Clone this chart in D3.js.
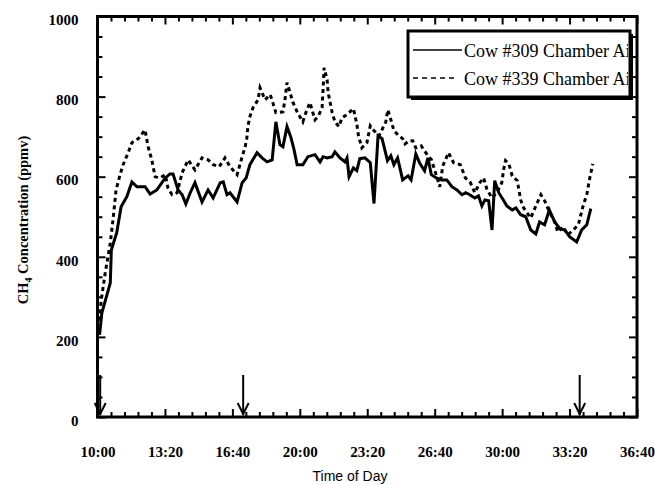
<!DOCTYPE html>
<html>
<head>
<meta charset="utf-8">
<script src="https://cdn.jsdelivr.net/npm/d3@7"></script>
<style>
  body { margin: 0; background: #fff; }
</style>
</head>
<body>
<div id="container"></div>
<script>
// DATA ####################################
// time in minutes after midnight of day 1 (10:00 = 600), CH4 in ppmv
const cow309Time = [606, 613, 638, 641, 657, 670, 687, 702, 717, 741, 756, 776, 801, 815, 824, 839, 851, 862, 875, 889,
  910, 928, 943, 964, 973, 984, 993, 1014, 1029, 1041, 1052, 1073, 1088, 1103, 1118, 1129, 1141, 1150, 1162, 1174,
  1183, 1192, 1209, 1224, 1245, 1260, 1269, 1281, 1296, 1304, 1319, 1334, 1340, 1346, 1359, 1369, 1378, 1393, 1409, 1420,
  1432, 1444, 1460, 1470, 1479, 1490, 1505, 1521, 1530, 1544, 1555, 1570, 1580, 1590, 1605, 1620, 1636, 1651, 1666, 1681,
  1692, 1704, 1719, 1730, 1740, 1749, 1760, 1770, 1778, 1790, 1805, 1814, 1830, 1841, 1855, 1870, 1885, 1900, 1911, 1926,
  1940, 1956, 1971, 1986, 2000, 2021, 2036, 2051, 2063];
const cow309Ppmv = [205, 260, 335, 417, 460, 525, 550, 587, 575, 575, 557, 567, 597, 607, 607, 567, 555, 532, 560, 585,
  537, 567, 547, 585, 587, 555, 560, 537, 585, 597, 630, 660, 647, 637, 642, 737, 680, 675, 725, 697,
  667, 630, 630, 650, 655, 637, 650, 647, 650, 662, 647, 637, 647, 600, 622, 615, 645, 647, 635, 533,
  702, 695, 640, 652, 630, 647, 592, 602, 592, 657, 635, 615, 647, 605, 597, 592, 592, 575, 567, 555,
  560, 555, 547, 552, 527, 542, 540, 467, 590, 560, 540, 527, 517, 522, 505, 500, 467, 457, 487, 480,
  517, 487, 470, 467, 450, 437, 467, 480, 520];

const cow339Time = [606, 611, 623, 638, 647, 655, 667, 676, 691, 702, 721, 741, 750, 761, 771, 786, 801, 809, 821, 836,
  851, 869, 889, 910, 928, 943, 961, 978, 993, 1014, 1029, 1038, 1043, 1046, 1052, 1061, 1076, 1082, 1097, 1112,
  1120, 1129, 1150, 1156, 1162, 1171, 1180, 1192, 1209, 1218, 1230, 1245, 1254, 1266, 1269, 1272, 1281, 1284, 1296, 1304,
  1316, 1325, 1340, 1359, 1369, 1374, 1384, 1399, 1409, 1420, 1435, 1455, 1461, 1472, 1479, 1494, 1505, 1512, 1525, 1535,
  1544, 1560, 1580, 1590, 1600, 1615, 1624, 1641, 1656, 1676, 1691, 1706, 1719, 1734, 1745, 1755, 1770, 1784, 1799, 1805,
  1810, 1820, 1830, 1845, 1855, 1864, 1885, 1900, 1915, 1926, 1940, 1956, 1965, 1980, 1995, 2011, 2026, 2041, 2051, 2060,
  2069];
const cow339Ppmv = [240, 292, 360, 435, 500, 567, 605, 630, 660, 685, 695, 717, 675, 642, 600, 597, 605, 572, 555, 560,
  610, 642, 617, 647, 642, 630, 625, 647, 625, 605, 650, 675, 697, 725, 750, 772, 792, 822, 792, 805,
  785, 760, 762, 792, 835, 810, 785, 762, 737, 760, 785, 742, 750, 772, 817, 872, 842, 810, 760, 737,
  725, 747, 755, 770, 732, 702, 672, 685, 727, 715, 702, 737, 767, 737, 715, 702, 695, 682, 690, 690,
  672, 677, 652, 643, 617, 575, 627, 660, 635, 630, 597, 585, 560, 585, 597, 568, 547, 560, 585, 620,
  640, 632, 602, 590, 542, 522, 497, 527, 555, 540, 512, 487, 462, 475, 455, 467, 480, 530, 555, 597,
  632];

const seriesNames = ["Cow #309 Chamber Air", "Cow #339 Chamber Air"];
const arrowTimes = [608, 1032, 2030];
const xTickValues = [600, 800, 1000, 1200, 1400, 1600, 1800, 2000, 2200];
const yTickValues = [0, 200, 400, 600, 800, 1000];

// CONSTANTS ###############################
const width = 655,
  height = 485,
  margin = { top: 16.5, left: 97.5, right: 18, bottom: 68 };

const fmtTime = m => Math.floor(m / 60) + ":" + String(m % 60).padStart(2, "0");

const svg = d3.select("#container")
  .append("svg")
  .attr("width", width)
  .attr("height", height)
  .style("background-color", "white");

// SCALES ----------------------------------
const xScale = d3.scaleLinear()
  .domain([600, 2200])
  .range([margin.left, width - margin.right]);

const yScale = d3.scaleLinear()
  .domain([0, 1000])
  .range([height - margin.bottom, margin.top]);

const x0 = xScale.range()[0], x1 = xScale.range()[1];
const y0 = yScale.range()[0], y1 = yScale.range()[1];

// AXES (ticks point inward on all four sides) -----
const minorX = d3.range(600, 2201, 40).filter(d => !xTickValues.includes(d));
const minorY = d3.range(0, 1001, 50).filter(d => !yTickValues.includes(d));

function tickLayer(axis, transform) {
  const g = svg.append("g").attr("transform", transform).call(axis);
  g.select(".domain").remove();
  g.selectAll(".tick line").attr("stroke", "#000").attr("stroke-width", 2);
  return g;
}

// bottom
const xAxisG = tickLayer(d3.axisBottom(xScale).tickValues(xTickValues).tickSize(-8).tickFormat(fmtTime),
  `translate(0,${y0})`);
xAxisG.selectAll("text")
  .attr("y", 40).attr("dy", 0)
  .style("font-family", "'Liberation Serif', 'Times New Roman', serif")
  .style("font-weight", "bold")
  .style("font-size", "15px")
  .attr("fill", "#000");
tickLayer(d3.axisBottom(xScale).tickValues(minorX).tickSize(-5).tickFormat(""), `translate(0,${y0})`);
// top
tickLayer(d3.axisTop(xScale).tickValues(xTickValues).tickSize(-8).tickFormat(""), `translate(0,${y1})`);
tickLayer(d3.axisTop(xScale).tickValues(minorX).tickSize(-5).tickFormat(""), `translate(0,${y1})`);
// left
const yAxisG = tickLayer(d3.axisLeft(yScale).tickValues(yTickValues).tickSize(-8).tickPadding(19)
  .tickFormat(d3.format("d")), `translate(${x0},0)`);
yAxisG.selectAll("text")
  .attr("dy", "0.55em")
  .style("font-family", "'Liberation Serif', 'Times New Roman', serif")
  .style("font-weight", "bold")
  .style("font-size", "15px")
  .attr("fill", "#000");
tickLayer(d3.axisLeft(yScale).tickValues(minorY).tickSize(-5).tickFormat(""), `translate(${x0},0)`);
// right
tickLayer(d3.axisRight(yScale).tickValues(yTickValues).tickSize(-8).tickFormat(""), `translate(${x1},0)`);
tickLayer(d3.axisRight(yScale).tickValues(minorY).tickSize(-5).tickFormat(""), `translate(${x1},0)`);

// FRAME
svg.append("rect")
  .attr("x", x0).attr("y", y1)
  .attr("width", x1 - x0).attr("height", y0 - y1)
  .attr("fill", "none")
  .attr("stroke", "#000")
  .attr("stroke-width", 3);

// LINES -----------------------------------
const line = d3.line()
  .x(d => xScale(d[0]))
  .y(d => yScale(d[1]));

svg.append("path")
  .datum(d3.zip(cow339Time, cow339Ppmv))
  .attr("d", line)
  .attr("fill", "none")
  .attr("stroke", "#000")
  .attr("stroke-width", 3)
  .attr("stroke-dasharray", "4,3.5");

svg.append("path")
  .datum(d3.zip(cow309Time, cow309Ppmv))
  .attr("d", line)
  .attr("fill", "none")
  .attr("stroke", "#000")
  .attr("stroke-width", 3)
  .attr("stroke-linejoin", "miter");

// ARROWS (feeding times) ------------------
const arrows = svg.selectAll("g.arrow")
  .data(arrowTimes)
  .join("g")
  .attr("class", "arrow")
  .attr("transform", d => `translate(${xScale(d)},0)`);

arrows.append("line")
  .attr("x1", 0).attr("x2", 0)
  .attr("y1", yScale(105)).attr("y2", yScale(0) - 2)
  .attr("stroke", "#000")
  .attr("stroke-width", 2);

arrows.append("path")
  .attr("d", `M-5.5,${yScale(0) - 14} L0,${yScale(0) - 3} L5.5,${yScale(0) - 14}`)
  .attr("fill", "none")
  .attr("stroke", "#000")
  .attr("stroke-width", 2);

// AXIS TITLES -----------------------------
svg.append("text")
  .attr("x", 350)
  .attr("y", 481)
  .attr("text-anchor", "middle")
  .style("font-family", "'Liberation Sans', Arial, sans-serif")
  .style("font-size", "14px")
  .text("Time of Day");

const yTitle = svg.append("text")
  .attr("transform", "translate(28,220) rotate(-90)")
  .attr("text-anchor", "middle")
  .style("font-family", "'Liberation Serif', 'Times New Roman', serif")
  .style("font-weight", "bold")
  .style("font-size", "14.5px");
yTitle.append("tspan").text("CH");
yTitle.append("tspan").attr("dy", 4).style("font-size", "10px").text("4");
yTitle.append("tspan").attr("dy", -4).text(" Concentration (ppmv)");

// LEGEND ----------------------------------
const lg = { x: 408, y: 31, w: 222, h: 66 };

svg.append("rect")
  .attr("x", lg.x + 3).attr("y", lg.y + 3)
  .attr("width", lg.w).attr("height", lg.h)
  .attr("fill", "#000");
svg.append("rect")
  .attr("x", lg.x).attr("y", lg.y)
  .attr("width", lg.w).attr("height", lg.h)
  .attr("fill", "#fff")
  .attr("stroke", "#000")
  .attr("stroke-width", 3);

svg.append("clipPath")
  .attr("id", "legend-clip")
  .append("rect")
  .attr("x", lg.x).attr("y", lg.y)
  .attr("width", lg.w - 2).attr("height", lg.h);

const legend = svg.append("g")
  .attr("clip-path", "url(#legend-clip)");

const legendItems = legend.selectAll("g.legend-item")
  .data(seriesNames)
  .join("g")
  .attr("class", "legend-item")
  .attr("transform", (d, i) => `translate(${lg.x},${lg.y + 19 + i * 28})`);

legendItems.append("line")
  .attr("x1", 5).attr("x2", (d, i) => i === 0 ? 54 : 50)
  .attr("y1", 0).attr("y2", 0)
  .attr("stroke", "#000")
  .attr("stroke-width", 1.5)
  .attr("stroke-dasharray", (d, i) => i === 0 ? null : "5,4");

legendItems.append("text")
  .attr("x", 56)
  .attr("y", 7)
  .style("font-family", "'Liberation Serif', 'Times New Roman', serif")
  .style("font-size", "18px")
  .text(d => d);
</script>
</body>
</html>
